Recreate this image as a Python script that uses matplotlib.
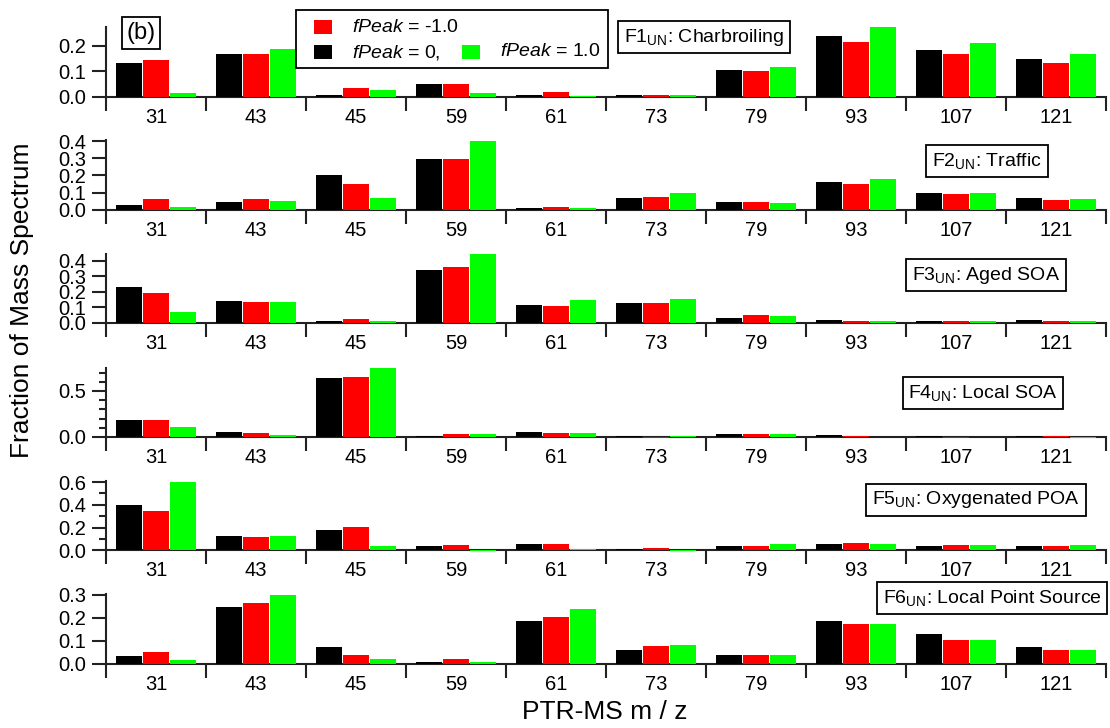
import matplotlib
matplotlib.use("Agg")
import matplotlib.pyplot as plt
import numpy as np
from matplotlib.patches import Rectangle

plt.rcParams["font.family"] = ["Liberation Sans", "DejaVu Sans"]
plt.rcParams["mathtext.fontset"] = "custom"
plt.rcParams["mathtext.rm"] = "Liberation Sans"
plt.rcParams["mathtext.it"] = "Liberation Sans:italic"

mz_labels = ["31", "43", "45", "59", "61", "73", "79", "93", "107", "121"]

f1_black = [0.131, 0.166, 0.007, 0.048, 0.006, 0.007, 0.105, 0.239, 0.183, 0.147]
f1_red = [0.142, 0.166, 0.033, 0.048, 0.020, 0.008, 0.100, 0.213, 0.167, 0.133]
f1_green = [0.014, 0.188, 0.027, 0.013, 0.003, 0.005, 0.115, 0.277, 0.211, 0.169]

f2_black = [0.027, 0.047, 0.202, 0.295, 0.010, 0.069, 0.045, 0.160, 0.099, 0.069]
f2_red = [0.062, 0.062, 0.151, 0.295, 0.016, 0.075, 0.045, 0.152, 0.093, 0.057]
f2_green = [0.016, 0.050, 0.068, 0.400, 0.010, 0.095, 0.040, 0.176, 0.099, 0.063]

f3_black = [0.233, 0.143, 0.011, 0.342, 0.116, 0.128, 0.035, 0.020, 0.015, 0.017]
f3_red = [0.193, 0.133, 0.028, 0.360, 0.109, 0.128, 0.050, 0.015, 0.015, 0.015]
f3_green = [0.071, 0.133, 0.013, 0.443, 0.148, 0.155, 0.044, 0.015, 0.015, 0.015]

f4_black = [0.188, 0.054, 0.645, 0.014, 0.054, 0.015, 0.037, 0.018, 0.015, 0.010]
f4_red = [0.181, 0.040, 0.649, 0.036, 0.040, -0.012, 0.033, 0.010, -0.010, 0.008]
f4_green = [0.109, 0.018, 0.754, 0.033, 0.048, 0.008, 0.030, -0.005, 0.005, -0.010]

f5_black = [0.398, 0.126, 0.178, 0.038, 0.056, 0.015, 0.042, 0.057, 0.039, 0.039]
f5_red = [0.345, 0.117, 0.205, 0.047, 0.055, 0.018, 0.039, 0.065, 0.045, 0.036]
f5_green = [0.602, 0.126, 0.038, -0.010, 0.015, -0.008, 0.054, 0.054, 0.045, 0.045]

f6_black = [0.035, 0.247, 0.073, 0.007, 0.186, 0.062, 0.040, 0.187, 0.129, 0.071]
f6_red = [0.051, 0.265, 0.038, 0.020, 0.202, 0.076, 0.040, 0.175, 0.104, 0.062]
f6_green = [0.016, 0.300, 0.020, 0.007, 0.238, 0.080, 0.036, 0.175, 0.104, 0.058]

factor_names = ["F1$_{\\mathrm{UN}}$: Charbroiling",
                "F2$_{\\mathrm{UN}}$: Traffic",
                "F3$_{\\mathrm{UN}}$: Aged SOA",
                "F4$_{\\mathrm{UN}}$: Local SOA",
                "F5$_{\\mathrm{UN}}$: Oxygenated POA",
                "F6$_{\\mathrm{UN}}$: Local Point Source"]

W, H = 1110, 728
fig = plt.figure(figsize=(W / 100, H / 100), dpi=100)

# panel layout in pixels: zero line, px per unit, ylim, major/minor ticks, label box centre
panels = [
    dict(data=(f1_black, f1_red, f1_green), zero=96.7, ppu=255, lim=(0, 0.275),
         major=[0, 0.1, 0.2], minor=[], box=(704, 37)),
    dict(data=(f2_black, f2_red, f2_green), zero=209.7, ppu=171.7, lim=(0, 0.405),
         major=[0, 0.1, 0.2, 0.3, 0.4], minor=[], box=(987, 161)),
    dict(data=(f3_black, f3_red, f3_green), zero=323, ppu=155.8, lim=(0, 0.445),
         major=[0, 0.1, 0.2, 0.3, 0.4], minor=[], box=(986, 275)),
    dict(data=(f4_black, f4_red, f4_green), zero=437, ppu=92, lim=(-0.02, 0.75),
         major=[0, 0.5], minor=[0.1, 0.2, 0.3, 0.4, 0.6, 0.7], box=(983, 393)),
    dict(data=(f5_black, f5_red, f5_green), zero=550.3, ppu=113.8, lim=(-0.02, 0.605),
         major=[0, 0.2, 0.4, 0.6], minor=[0.1, 0.3, 0.5], box=(976, 500)),
    dict(data=(f6_black, f6_red, f6_green), zero=663.7, ppu=229, lim=(0, 0.305),
         major=[0, 0.1, 0.2, 0.3], minor=[], box=(992, 598)),
]

colors = ["black", "#ff0000", "#00ff00"]
offsets = [-0.27, 0.0, 0.27]
x = np.arange(len(mz_labels))
left_px, right_px = 106, 1106

for p, name in zip(panels, factor_names):
    lo, hi = p["lim"]
    top_px = p["zero"] - hi * p["ppu"]
    bot_px = p["zero"] - lo * p["ppu"]
    ax = fig.add_axes([left_px / W, 1 - bot_px / H, (right_px - left_px) / W, (bot_px - top_px) / H])
    for vals, c, off in zip(p["data"], colors, offsets):
        ax.bar(x + off, vals, width=0.26, color=c, edgecolor="none", zorder=3)
    ax.set_xlim(-0.5, len(mz_labels) - 0.5)
    ax.set_ylim(lo, hi)
    for s in ["top", "right"]:
        ax.spines[s].set_visible(False)
    ax.spines["bottom"].set_position(("data", 0))
    ax.spines["left"].set_bounds(0, hi)
    for s in ["bottom", "left"]:
        ax.spines[s].set_linewidth(1.5)
        ax.spines[s].set_color("#222222")
    ax.set_xticks(np.arange(-0.5, len(mz_labels)))
    ax.set_xticklabels([])
    ax.set_xticks(x, minor=True)
    ax.set_xticklabels(mz_labels, minor=True)
    ax.tick_params(axis="x", which="major", direction="out", length=10, width=1.5, color="#222222")
    ax.tick_params(axis="x", which="minor", length=0, pad=8, labelsize=14.5)
    ax.set_yticks(p["major"])
    ax.set_yticklabels([f"{v:.1f}" for v in p["major"]])
    ax.set_yticks(p["minor"], minor=True)
    ax.tick_params(axis="y", which="major", direction="out", length=10, width=1.5,
                   pad=4, labelsize=14.5, color="#222222")
    ax.tick_params(axis="y", which="minor", direction="out", length=5, width=1.5, color="#222222")
    ax.patch.set_alpha(0)
    bx, by = p["box"]
    fig.text(bx / W, 1 - by / H, name, ha="center", va="center", fontsize=14,
             bbox=dict(boxstyle="square,pad=0.3", fc="white", ec="black", lw=1.3))

# legend box
fig.patches.append(Rectangle((296 / W, 1 - 68 / H), (608 - 296) / W, 58 / H,
                             transform=fig.transFigure, fc="white", ec="black", lw=1.3))
legend_items = [(314, 27, "#ff0000", "$\\it{fPeak}$ = -1.0"),
                (314, 52, "black", "$\\it{fPeak}$ = 0,"),
                (462, 52, "#00ff00", "$\\it{fPeak}$ = 1.0")]
for lx, ly, c, txt in legend_items:
    fig.patches.append(Rectangle((lx / W, 1 - (ly + 6.5) / H), 18 / W, 13 / H,
                                 transform=fig.transFigure, fc=c, ec="none"))
    fig.text((lx + 38) / W, 1 - ly / H, txt, ha="left", va="center", fontsize=14)

fig.text(141 / W, 1 - 33 / H, "(b)", ha="center", va="center", fontsize=17,
         bbox=dict(boxstyle="square,pad=0.2", fc="white", ec="black", lw=1.3))

fig.text(22 / W, 1 - 300 / H, "Fraction of Mass Spectrum", rotation=90,
         ha="center", va="center", fontsize=19)
fig.text(605 / W, 1 - 712 / H, "PTR-MS m / z", ha="center", va="center", fontsize=19)

fig.savefig("out.png", dpi=100)
